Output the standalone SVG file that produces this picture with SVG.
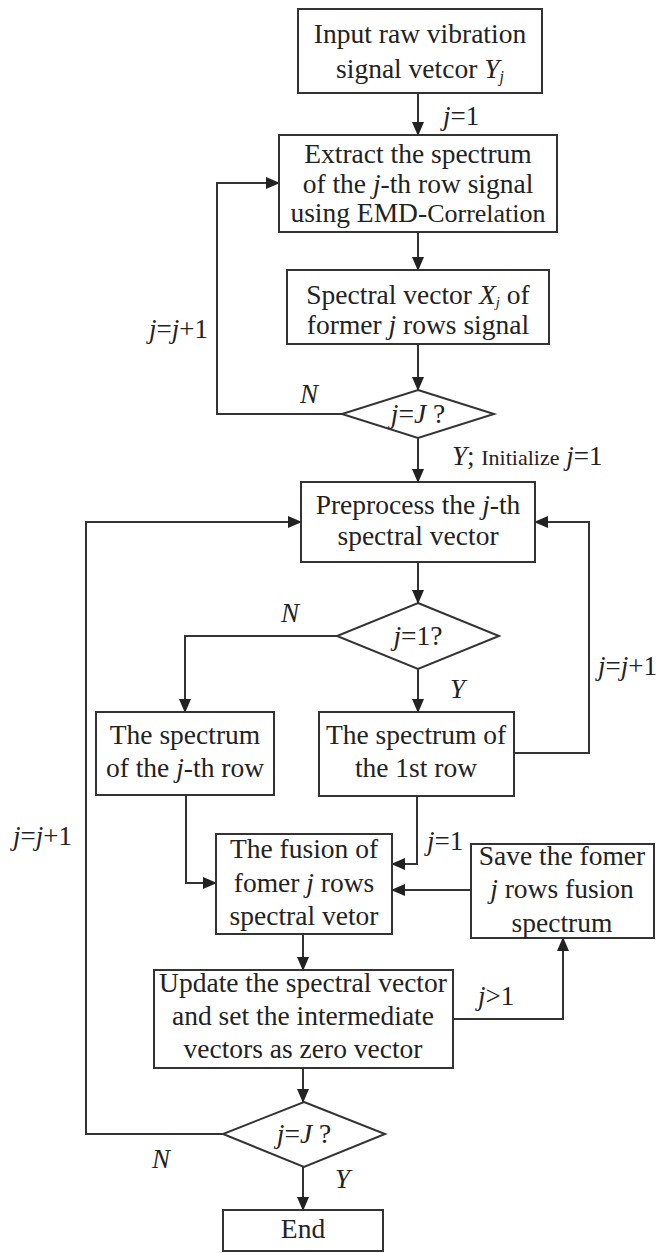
<svg xmlns="http://www.w3.org/2000/svg" width="664" height="1253" viewBox="0 0 664 1253">
<style>
.box{fill:#fff;stroke:#333;stroke-width:2}
.t{font-family:"Liberation Serif","Times New Roman",serif;font-size:27.5px;fill:#222;text-anchor:middle}
.l{font-family:"Liberation Serif","Times New Roman",serif;font-size:27px;fill:#222}
.i{font-style:italic}
.s{font-size:22px}
.c{fill:none;stroke:#333;stroke-width:2}
</style>
<defs>
<marker id="a" markerWidth="14" markerHeight="12" refX="13" refY="6" orient="auto" markerUnits="userSpaceOnUse">
<path d="M0,0 L14,6 L0,12 Z" fill="#222"/>
</marker>
</defs>
<rect width="664" height="1253" fill="#fff"/>
<g id="connectors">
<path class="c" d="M418,93 V135" marker-end="url(#a)"/>
<path class="c" d="M418,232 V270" marker-end="url(#a)"/>
<path class="c" d="M418,344 V390" marker-end="url(#a)"/>
<path class="c" d="M342,414 H217 V183 H279" marker-end="url(#a)"/>
<path class="c" d="M418,438 V482" marker-end="url(#a)"/>
<path class="c" d="M418,562 V603" marker-end="url(#a)"/>
<path class="c" d="M337,636 H185 V712" marker-end="url(#a)"/>
<path class="c" d="M418,669 V712" marker-end="url(#a)"/>
<path class="c" d="M514,753 H589 V522 H535" marker-end="url(#a)"/>
<path class="c" d="M186,795 V883 H216" marker-end="url(#a)"/>
<path class="c" d="M417,796 V864 H392" marker-end="url(#a)"/>
<path class="c" d="M471,890 H392" marker-end="url(#a)"/>
<path class="c" d="M303,934 V970" marker-end="url(#a)"/>
<path class="c" d="M453,1019 H563 V938" marker-end="url(#a)"/>
<path class="c" d="M303,1068 V1102" marker-end="url(#a)"/>
<path class="c" d="M223,1134 H86 V522 H301" marker-end="url(#a)"/>
<path class="c" d="M303,1167 V1210" marker-end="url(#a)"/>
</g>
<g id="labels">
<text class="l" x="443" y="125"><tspan class="i">j</tspan>=1</text>
<text class="l" x="149" y="338"><tspan class="i">j</tspan>=<tspan class="i">j</tspan>+1</text>
<text class="l i" x="300" y="403">N</text>
<text class="l" x="452" y="465"><tspan class="i">Y</tspan>; <tspan class="s">Initialize</tspan> <tspan class="i">j</tspan>=1</text>
<text class="l i" x="281" y="622">N</text>
<text class="l i" x="450" y="698">Y</text>
<text class="l" x="598" y="675"><tspan class="i">j</tspan>=<tspan class="i">j</tspan>+1</text>
<text class="l" x="13" y="845"><tspan class="i">j</tspan>=<tspan class="i">j</tspan>+1</text>
<text class="l" x="427" y="850"><tspan class="i">j</tspan>=1</text>
<text class="l" x="478" y="1005"><tspan class="i">j</tspan>&gt;1</text>
<text class="l i" x="152" y="1168">N</text>
<text class="l i" x="335" y="1188">Y</text>
</g>
<g id="n1">
<rect class="box" x="298" y="9" width="244" height="84"/>
<text class="t" x="420" y="43">Input raw vibration</text>
<text class="t" x="420" y="78">signal vetcor <tspan class="i">Y</tspan><tspan class="i" font-size="16" dy="4">j</tspan></text>
</g>
<g id="n2">
<rect class="box" x="279" y="135" width="278" height="97"/>
<text class="t" x="418" y="163">Extract the spectrum</text>
<text class="t" x="418" y="193">of the <tspan class="i">j</tspan>-th row signal</text>
<text class="t" x="418" y="222">using EMD-<tspan font-size="26">Correlation</tspan></text>
</g>
<g id="n3">
<rect class="box" x="287" y="270" width="262" height="74"/>
<text class="t" x="418" y="304" font-size="26">Spectral vector <tspan class="i">X</tspan><tspan class="i" font-size="15" dy="3">j</tspan><tspan dy="-3"> of</tspan></text>
<text class="t" x="418" y="334" font-size="26">former <tspan class="i">j</tspan> rows signal</text>
</g>
<g id="d1">
<polygon class="box" points="418,390 494,414 418,438 342,414"/>
<text class="t" x="418" y="423"><tspan class="i">j</tspan>=<tspan class="i">J</tspan> ?</text>
</g>
<g id="n4">
<rect class="box" x="301" y="482" width="234" height="80"/>
<text class="t" x="418" y="514">Preprocess the <tspan class="i">j</tspan>-th</text>
<text class="t" x="418" y="545">spectral vector</text>
</g>
<g id="d2">
<polygon class="box" points="418,603 499,636 418,669 337,636"/>
<text class="t" x="418" y="645"><tspan class="i">j</tspan>=1?</text>
</g>
<g id="n5">
<rect class="box" x="96" y="712" width="178" height="83"/>
<text class="t" x="185" y="744">The spectrum</text>
<text class="t" x="185" y="777">of the <tspan class="i">j</tspan>-th row</text>
</g>
<g id="n6">
<rect class="box" x="319" y="712" width="195" height="84"/>
<text class="t" x="416" y="744">The spectrum of</text>
<text class="t" x="416" y="777">the 1st row</text>
</g>
<g id="n7">
<rect class="box" x="216" y="834" width="176" height="100"/>
<text class="t" x="304" y="858">The fusion of</text>
<text class="t" x="304" y="892">fomer <tspan class="i">j</tspan> rows</text>
<text class="t" x="304" y="925">spectral vetor</text>
</g>
<g id="n9">
<rect class="box" x="471" y="844" width="183" height="94"/>
<text class="t" x="562" y="865">Save the fomer</text>
<text class="t" x="562" y="898"><tspan class="i">j</tspan> rows fusion</text>
<text class="t" x="562" y="932">spectrum</text>
</g>
<g id="n8">
<rect class="box" x="154" y="970" width="299" height="98"/>
<text class="t" x="303" y="992">Update the spectral vector</text>
<text class="t" x="303" y="1025">and set the intermediate</text>
<text class="t" x="303" y="1058">vectors as zero vector</text>
</g>
<g id="d3">
<polygon class="box" points="304,1102 385,1134 304,1167 223,1134"/>
<text class="t" x="304" y="1143"><tspan class="i">j</tspan>=<tspan class="i">J</tspan> ?</text>
</g>
<g id="end">
<rect class="box" x="223" y="1210" width="160" height="41"/>
<text class="t" x="303" y="1238">End</text>
</g>
</svg>
